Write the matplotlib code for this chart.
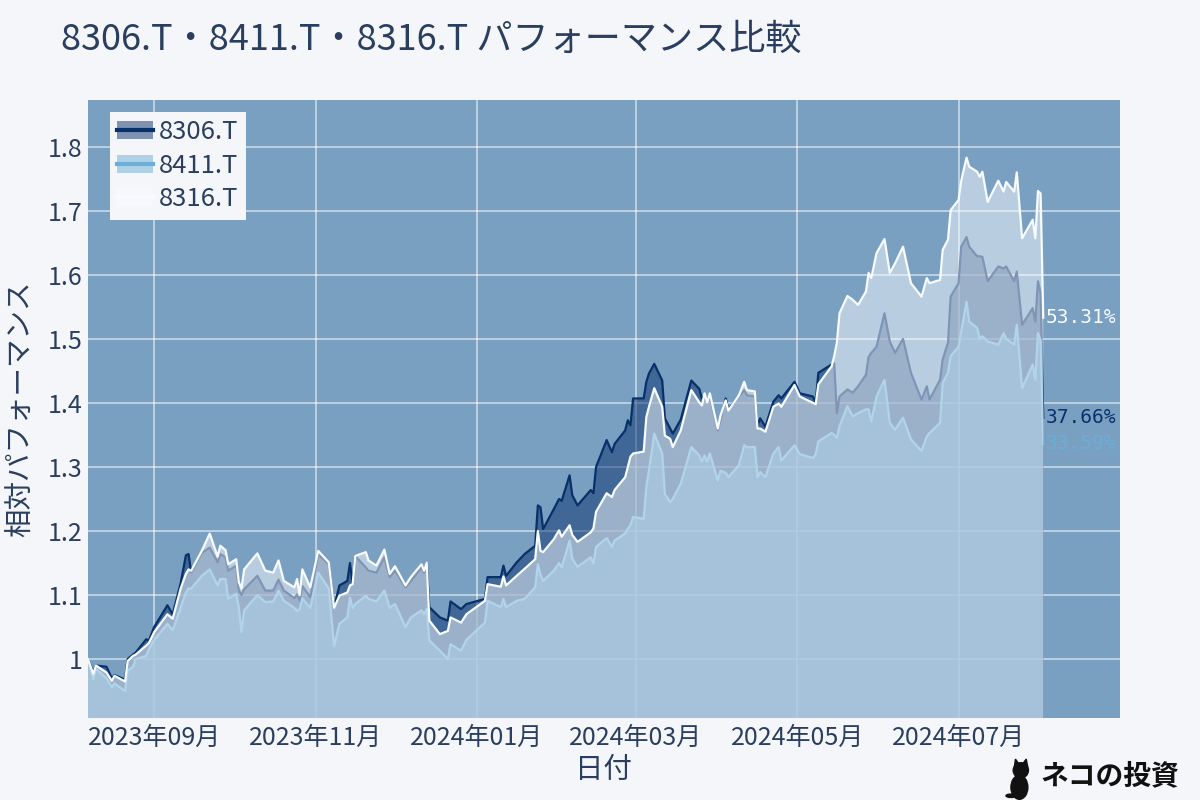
import matplotlib
matplotlib.use("Agg")
import matplotlib.pyplot as plt
import matplotlib.dates as mdates
import numpy as np
import pandas as pd
from matplotlib.lines import Line2D
from matplotlib.patches import Patch, Ellipse, Circle, Polygon
from matplotlib.legend_handler import HandlerTuple

plt.rcParams["font.family"] = ["Noto Sans CJK JP", "DejaVu Sans"]

dates = [
    "2023-08-07", "2023-08-09", "2023-08-10", "2023-08-14", "2023-08-16", "2023-08-17",
    "2023-08-21", "2023-08-22", "2023-08-24", "2023-08-25", "2023-08-29", "2023-08-30",
    "2023-09-01", "2023-09-06", "2023-09-08", "2023-09-11", "2023-09-13", "2023-09-14",
    "2023-09-15", "2023-09-19", "2023-09-22", "2023-09-25", "2023-09-26", "2023-09-28",
    "2023-09-29", "2023-10-02", "2023-10-03", "2023-10-04", "2023-10-05", "2023-10-10",
    "2023-10-13", "2023-10-16", "2023-10-18", "2023-10-20", "2023-10-24", "2023-10-25",
    "2023-10-26", "2023-10-27", "2023-10-30", "2023-11-02", "2023-11-06", "2023-11-08",
    "2023-11-10", "2023-11-13", "2023-11-14", "2023-11-15", "2023-11-16", "2023-11-20",
    "2023-11-21", "2023-11-24", "2023-11-27", "2023-11-29", "2023-12-01", "2023-12-05",
    "2023-12-07", "2023-12-11", "2023-12-12", "2023-12-13", "2023-12-14", "2023-12-18",
    "2023-12-21", "2023-12-22", "2023-12-26", "2023-12-28", "2024-01-04", "2024-01-05",
    "2024-01-10", "2024-01-11", "2024-01-12", "2024-01-16", "2024-01-19", "2024-01-23",
    "2024-01-24", "2024-01-25", "2024-01-26", "2024-01-30", "2024-02-01", "2024-02-02",
    "2024-02-05", "2024-02-06", "2024-02-08", "2024-02-13", "2024-02-14", "2024-02-15",
    "2024-02-19", "2024-02-21", "2024-02-22", "2024-02-26", "2024-02-27", "2024-02-28",
    "2024-02-29", "2024-03-04", "2024-03-05", "2024-03-06", "2024-03-08", "2024-03-11",
    "2024-03-12", "2024-03-14", "2024-03-15", "2024-03-18", "2024-03-22", "2024-03-25",
    "2024-03-26", "2024-03-27", "2024-03-28", "2024-03-29", "2024-04-01", "2024-04-02",
    "2024-04-04", "2024-04-05", "2024-04-09", "2024-04-11", "2024-04-12", "2024-04-15",
    "2024-04-16", "2024-04-17", "2024-04-19", "2024-04-22", "2024-04-24", "2024-04-25",
    "2024-04-30", "2024-05-02", "2024-05-07", "2024-05-08", "2024-05-09", "2024-05-14",
    "2024-05-15", "2024-05-16", "2024-05-17", "2024-05-20", "2024-05-22", "2024-05-24",
    "2024-05-27", "2024-05-28", "2024-05-29", "2024-05-31", "2024-06-03", "2024-06-05",
    "2024-06-07", "2024-06-10", "2024-06-13", "2024-06-17", "2024-06-19", "2024-06-20",
    "2024-06-24", "2024-06-25", "2024-06-27", "2024-06-28", "2024-07-01", "2024-07-02",
    "2024-07-04", "2024-07-05", "2024-07-08", "2024-07-09", "2024-07-10", "2024-07-12",
    "2024-07-16", "2024-07-18", "2024-07-19", "2024-07-22", "2024-07-23", "2024-07-25",
    "2024-07-29", "2024-07-30", "2024-07-31", "2024-08-01", "2024-08-02",
]

perf_8306 = [
    1.000, 0.980, 0.990, 0.988, 0.970, 0.975, 0.968, 1.000, 1.007, 1.010, 1.031, 1.029,
    1.050, 1.084, 1.070, 1.118, 1.162, 1.164, 1.135, 1.166, 1.174, 1.151, 1.164, 1.159,
    1.138, 1.146, 1.107, 1.100, 1.109, 1.130, 1.107, 1.107, 1.124, 1.107, 1.095, 1.101,
    1.091, 1.114, 1.097, 1.164, 1.148, 1.080, 1.115, 1.122, 1.150, 1.117, 1.161, 1.143,
    1.138, 1.135, 1.159, 1.128, 1.138, 1.112, 1.122, 1.143, 1.135, 1.151, 1.081, 1.065,
    1.060, 1.090, 1.078, 1.086, 1.094, 1.128, 1.128, 1.146, 1.130, 1.151, 1.164, 1.177,
    1.240, 1.237, 1.203, 1.234, 1.250, 1.247, 1.287, 1.256, 1.240, 1.264, 1.259, 1.300,
    1.342, 1.323, 1.336, 1.357, 1.373, 1.365, 1.407, 1.407, 1.433, 1.446, 1.461, 1.435,
    1.376, 1.360, 1.352, 1.374, 1.435, 1.422, 1.407, 1.410, 1.405, 1.410, 1.357, 1.373,
    1.407, 1.390, 1.410, 1.420, 1.412, 1.410, 1.365, 1.376, 1.363, 1.402, 1.412, 1.407,
    1.433, 1.415, 1.410, 1.400, 1.447, 1.460, 1.462, 1.384, 1.410, 1.421, 1.416, 1.426,
    1.444, 1.472, 1.478, 1.488, 1.540, 1.496, 1.478, 1.500, 1.447, 1.405, 1.426, 1.405,
    1.436, 1.468, 1.494, 1.566, 1.587, 1.644, 1.659, 1.644, 1.629, 1.629, 1.628, 1.590,
    1.613, 1.610, 1.613, 1.590, 1.605, 1.522, 1.548, 1.527, 1.590, 1.572, 1.3766,
]

perf_8411 = [
    1.000, 0.968, 0.985, 0.970, 0.956, 0.962, 0.950, 0.982, 0.988, 1.000, 1.005, 1.015,
    1.030, 1.055, 1.045, 1.080, 1.104, 1.110, 1.110, 1.130, 1.140, 1.115, 1.125, 1.125,
    1.094, 1.102, 1.081, 1.042, 1.076, 1.100, 1.089, 1.090, 1.107, 1.091, 1.080, 1.075,
    1.078, 1.095, 1.080, 1.135, 1.110, 1.020, 1.055, 1.065, 1.096, 1.080, 1.086, 1.099,
    1.094, 1.090, 1.107, 1.080, 1.086, 1.050, 1.065, 1.076, 1.070, 1.078, 1.029, 1.013,
    1.000, 1.023, 1.013, 1.030, 1.057, 1.091, 1.081, 1.094, 1.081, 1.091, 1.094, 1.112,
    1.148, 1.132, 1.122, 1.138, 1.150, 1.143, 1.185, 1.157, 1.144, 1.159, 1.149, 1.175,
    1.189, 1.175, 1.185, 1.196, 1.204, 1.209, 1.222, 1.219, 1.269, 1.295, 1.352, 1.321,
    1.258, 1.245, 1.250, 1.274, 1.331, 1.318, 1.308, 1.318, 1.308, 1.321, 1.279, 1.294,
    1.291, 1.284, 1.303, 1.334, 1.331, 1.331, 1.284, 1.292, 1.284, 1.321, 1.331, 1.310,
    1.334, 1.320, 1.314, 1.320, 1.340, 1.353, 1.350, 1.345, 1.364, 1.395, 1.379, 1.384,
    1.390, 1.390, 1.371, 1.410, 1.436, 1.369, 1.358, 1.377, 1.343, 1.325, 1.348, 1.353,
    1.369, 1.431, 1.447, 1.473, 1.488, 1.512, 1.558, 1.527, 1.517, 1.500, 1.504, 1.496,
    1.491, 1.509, 1.500, 1.491, 1.522, 1.423, 1.460, 1.436, 1.509, 1.498, 1.3359,
]

perf_8316 = [
    1.000, 0.977, 0.990, 0.979, 0.966, 0.974, 0.965, 0.997, 1.005, 1.007, 1.021, 1.025,
    1.042, 1.070, 1.063, 1.110, 1.133, 1.140, 1.138, 1.169, 1.196, 1.160, 1.177, 1.170,
    1.148, 1.156, 1.120, 1.110, 1.140, 1.165, 1.138, 1.135, 1.154, 1.122, 1.112, 1.125,
    1.100, 1.140, 1.112, 1.169, 1.151, 1.080, 1.099, 1.104, 1.115, 1.117, 1.161, 1.167,
    1.154, 1.146, 1.171, 1.133, 1.145, 1.115, 1.128, 1.148, 1.138, 1.151, 1.060, 1.039,
    1.044, 1.065, 1.057, 1.070, 1.091, 1.117, 1.113, 1.129, 1.115, 1.130, 1.141, 1.156,
    1.200, 1.169, 1.167, 1.187, 1.201, 1.191, 1.209, 1.194, 1.183, 1.198, 1.204, 1.230,
    1.259, 1.253, 1.264, 1.284, 1.300, 1.316, 1.321, 1.324, 1.378, 1.394, 1.423, 1.394,
    1.349, 1.344, 1.331, 1.357, 1.420, 1.401, 1.396, 1.415, 1.401, 1.415, 1.360, 1.380,
    1.404, 1.388, 1.412, 1.433, 1.420, 1.418, 1.360, 1.360, 1.355, 1.394, 1.399, 1.394,
    1.428, 1.410, 1.400, 1.398, 1.429, 1.457, 1.473, 1.494, 1.540, 1.567, 1.561, 1.553,
    1.574, 1.603, 1.595, 1.634, 1.656, 1.603, 1.618, 1.644, 1.587, 1.566, 1.595, 1.587,
    1.592, 1.639, 1.655, 1.701, 1.717, 1.747, 1.783, 1.769, 1.761, 1.753, 1.761, 1.714,
    1.747, 1.730, 1.745, 1.730, 1.760, 1.657, 1.686, 1.657, 1.731, 1.727, 1.5331,
]

tickers = ["8306.T", "8411.T", "8316.T"]
colors = ["#08306b", "#6baed6", "#f7fbff"]
series = [perf_8306, perf_8411, perf_8316]

y_ticks = [1.0, 1.1, 1.2, 1.3, 1.4, 1.5, 1.6, 1.7, 1.8]
y_tick_labels = ["1", "1.1", "1.2", "1.3", "1.4", "1.5", "1.6", "1.7", "1.8"]
x_ticks = ["2023-09-01", "2023-11-01", "2024-01-01", "2024-03-01", "2024-05-01", "2024-07-01"]
x_range = ["2023-08-07", "2024-08-31"]
y_range = [0.908, 1.873]

text_color = "#2a3f5f"
page_bg = "#f5f6fa"
plot_bg = "#7aa0c1"

d = pd.to_datetime(dates)

fig = plt.figure(figsize=(12, 8), dpi=100, facecolor=page_bg)
ax = fig.add_axes([88 / 1200, 82 / 800, 1032 / 1200, 618 / 800])
ax.set_facecolor(plot_bg)

# each trace: its fill, then its line, stacked above the previous trace
handles = []
for i, (name, vals, c) in enumerate(zip(tickers, series, colors)):
    z = 2 + 2 * i
    ax.fill_between(d, 0, vals, color=c, alpha=0.5, linewidth=0, zorder=z)
    ax.plot(d, vals, color=c, lw=1.6, zorder=z + 1)
    last = vals[-1]
    ax.annotate(f"{(last - 1) * 100:.2f}%", xy=(d[-1], last), xytext=(2, 0),
                textcoords="offset points", va="center", ha="left",
                color=c, fontsize=14, family="DejaVu Sans Mono", zorder=10)
    handles.append((Patch(facecolor=c, alpha=0.5, edgecolor="none"),
                    Line2D([], [], color=c, lw=3)))

ax.set_xlim(pd.to_datetime(x_range[0]), pd.to_datetime(x_range[1]))
ax.set_ylim(*y_range)
ax.set_yticks(y_ticks)
ax.set_yticklabels(y_tick_labels)
ax.set_xticks(pd.to_datetime(x_ticks))
ax.xaxis.set_major_formatter(mdates.DateFormatter("%Y年%m月"))
ax.grid(True, color="white", alpha=0.6, lw=1.2)
ax.set_axisbelow(True)
for s in ax.spines.values():
    s.set_visible(False)
ax.tick_params(length=0, labelsize=18, labelcolor=text_color)
ax.tick_params(axis="x", pad=5)
ax.tick_params(axis="y", pad=4)

ax.set_xlabel("日付", fontsize=20.5, color=text_color, labelpad=3)
ax.set_ylabel("相対パフォーマンス", fontsize=20.5, color=text_color, labelpad=8)

leg = ax.legend(handles, tickers, handler_map={tuple: HandlerTuple(ndivide=1, pad=0)},
                loc="upper left", bbox_to_anchor=(0.021, 0.981), borderaxespad=0,
                fontsize=18.5, frameon=True, fancybox=False, facecolor=page_bg,
                framealpha=1, edgecolor="none", handlelength=1.4, labelspacing=0.28,
                handletextpad=0.2, borderpad=0.3)
leg.set_zorder(20)
for t in leg.get_texts():
    t.set_color(text_color)

fig.text(0.051, 0.95, "8306.T・8411.T・8316.T パフォーマンス比較", fontsize=26,
         color=text_color, va="center", ha="left")

# watermark: small cat silhouette + text
wm = fig.add_axes([0.832, 0.0, 0.035, 0.06])
wm.set_xlim(0, 1)
wm.set_ylim(0, 1.7)
wm.set_aspect("equal")
wm.axis("off")
wm.add_patch(Ellipse((0.5, 0.45), 0.6, 0.85, color="#111111"))
wm.add_patch(Circle((0.55, 1.05), 0.27, color="#111111"))
wm.add_patch(Polygon([[0.32, 1.15], [0.36, 1.45], [0.5, 1.25]], color="#111111"))
wm.add_patch(Polygon([[0.6, 1.25], [0.74, 1.45], [0.8, 1.15]], color="#111111"))
wm.add_patch(Ellipse((0.2, 0.15), 0.35, 0.12, color="#111111"))
fig.text(0.983, 0.03, "ネコの投資", fontsize=20, fontweight="bold", color="#111111",
         ha="right", va="center")

fig.savefig("out.png", dpi=100, facecolor=page_bg)
